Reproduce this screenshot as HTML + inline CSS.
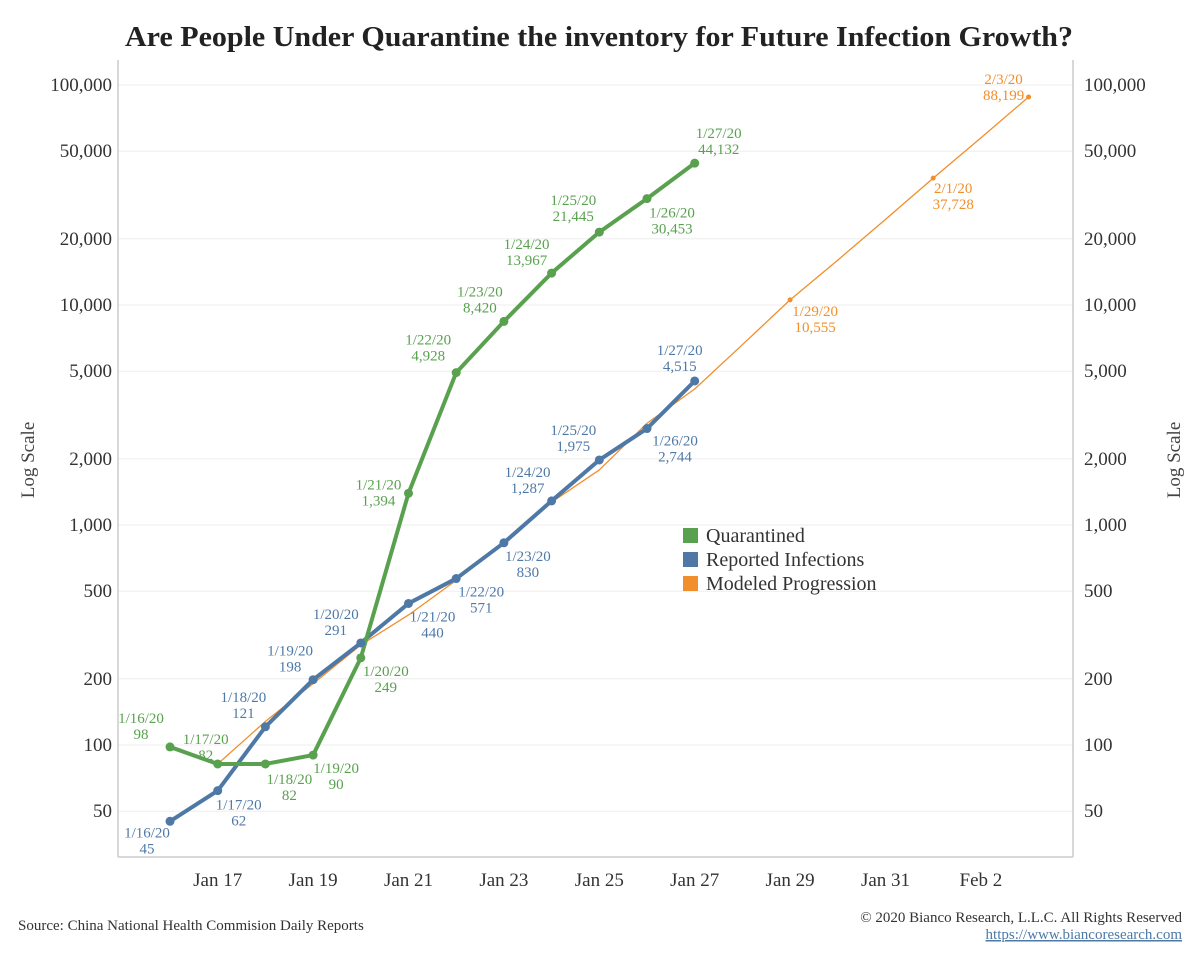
<!DOCTYPE html>
<html><head><meta charset="utf-8"><style>
body{margin:0;background:#fff;}
svg{display:block;font-family:"Liberation Serif",serif;}
</style></head><body>
<svg id="c" width="1200" height="960">
<text x="125" y="46" textLength="948" lengthAdjust="spacingAndGlyphs" font-size="28" font-weight="bold" fill="#222">Are People Under Quarantine the inventory for Future Infection Growth?</text>
<g id="grid"></g>
<line x1="118" y1="60" x2="118" y2="857" stroke="#ccc" stroke-width="1.5"/>
<line x1="1073" y1="60" x2="1073" y2="857" stroke="#ccc" stroke-width="1.5"/>
<line x1="118" y1="857" x2="1073" y2="857" stroke="#ccc" stroke-width="1.5"/>
<text transform="translate(34,460) rotate(-90)" text-anchor="middle" font-size="19" fill="#444">Log Scale</text>
<text transform="translate(1180,460) rotate(-90)" text-anchor="middle" font-size="19" fill="#444">Log Scale</text>
<g id="marks"></g>
<g>
<rect x="683" y="528" width="15" height="15" fill="#59a14f"/>
<text x="706" y="542" font-size="20" fill="#333">Quarantined</text>
<rect x="683" y="552" width="15" height="15" fill="#4e79a7"/>
<text x="706" y="566" font-size="20" fill="#333">Reported Infections</text>
<rect x="683" y="576" width="15" height="15" fill="#f28e2b"/>
<text x="706" y="590" font-size="20" fill="#333">Modeled Progression</text>
</g>
<text x="18" y="930" font-size="15" fill="#333">Source: China National Health Commision Daily Reports</text>
<text x="1182" y="922" text-anchor="end" font-size="15" fill="#333">© 2020 Bianco Research, L.L.C. All Rights Reserved</text>
<text x="1182" y="939" text-anchor="end" font-size="15" fill="#4e79a7" text-decoration="underline">https://www.biancoresearch.com</text>
</svg>
<script>
const yTicks=[50,100,200,500,1000,2000,5000,10000,20000,50000,100000];
const xTickDays=[1,3,5,7,9,11,13,15,17];
const xTickLabels=["Jan 17","Jan 19","Jan 21","Jan 23","Jan 25","Jan 27","Jan 29","Jan 31","Feb 2"];
const qDays=[0,1,2,3,4,5,6,7,8,9,10,11];
const qLabels=["1/16/20","1/17/20","1/18/20","1/19/20","1/20/20","1/21/20","1/22/20","1/23/20","1/24/20","1/25/20","1/26/20","1/27/20"];
const quarantined=[98,82,82,90,249,1394,4928,8420,13967,21445,30453,44132];
const rDays=[0,1,2,3,4,5,6,7,8,9,10,11];
const reported=[45,62,121,198,291,440,571,830,1287,1975,2744,4515];
const mDays=[1,2,3,4,5,6,7,8,9,10,11,12,13,14,15,16,17,18];
const modeled=[82,128,190,285,390,560,830,1270,1780,2900,4150,6600,10555,16000,24500,37728,57500,88199];
const mLabeled={13:"1/29/20",16:"2/1/20",18:"2/3/20"};

const X=d=>170+d*47.7;
const Y=v=>745-(Math.log10(v)-2)*220;
const NS="http://www.w3.org/2000/svg";
function mk(t,a,p){const e=document.createElementNS(NS,t);for(const k in a)e.setAttribute(k,a[k]);p.appendChild(e);return e;}
const grid=document.getElementById('grid'),marks=document.getElementById('marks');
const fmt=v=>v.toLocaleString('en-US');
yTicks.forEach(v=>{
 const g=mk('line',{x1:118,x2:1073,y1:Y(v),y2:Y(v),stroke:'#eee','stroke-width':1},grid);
 
 
 const l=mk('text',{x:112,y:Y(v)+6,'text-anchor':'end','font-size':19,fill:'#333'},grid);l.textContent=fmt(v);
 
 
 const r=mk('text',{x:1084,y:Y(v)+6,'font-size':19,fill:'#333'},grid);r.textContent=fmt(v);
 
 
});
xTickDays.forEach((d,i)=>{
 const t=mk('text',{x:X(d),y:886,'text-anchor':'middle','font-size':19,fill:'#333'},grid);t.textContent=xTickLabels[i];
 
 
});
function series(days,vals,color,w,name){
 const p=mk('polyline',{points:days.map((d,i)=>X(d)+','+Y(vals[i])).join(' '),fill:'none',stroke:color,'stroke-width':w,'stroke-linejoin':'round'},marks);
 
 
}
function label(x,y,l1,l2,color){
 const t=mk('text',{x:x,y:y,'text-anchor':'middle','font-size':15,fill:color},marks);
 
 
 mk('tspan',{x:x,dy:0},t).textContent=l1;
 mk('tspan',{x:x,dy:16},t).textContent=l2;
}
series(mDays,modeled,'#f28e2b',1.3,'modeled');
mDays.forEach((d,i)=>{if(mLabeled[d]){const c=mk('circle',{cx:X(d),cy:Y(modeled[i]),r:2.5,fill:'#f28e2b'},marks);}});
series(rDays,reported,'#4e79a7',4,'reported');
series(qDays,quarantined,'#59a14f',4,'quarantined');
rDays.forEach((d,i)=>{const c=mk('circle',{cx:X(d),cy:Y(reported[i]),r:4.5,fill:'#4e79a7'},marks);});
qDays.forEach((d,i)=>{const c=mk('circle',{cx:X(d),cy:Y(quarantined[i]),r:4.5,fill:'#59a14f'},marks);});
const qOff=[[-29,-24],[-12,-20],[24,20],[23,18],[25,18],[-30,-4],[-28,-28],[-24,-25],[-25,-24],[-26,-27],[25,19],[24,-25]];
const rOff=[[-23,16],[21,19],[-22,-25],[-23,-24],[-25,-24],[24,18],[25,18],[24,18],[-24,-24],[-26,-25],[28,17],[-15,-26]];
qDays.forEach((d,i)=>label(X(d)+qOff[i][0],Y(quarantined[i])+qOff[i][1],qLabels[i],fmt(quarantined[i]),'#59a14f'));
rDays.forEach((d,i)=>label(X(d)+rOff[i][0],Y(reported[i])+rOff[i][1],qLabels[i],fmt(reported[i]),'#4e79a7'));
const mOff={13:[25,16],16:[20,15],18:[-25,-13]};
mDays.forEach((d,i)=>{if(mLabeled[d])label(X(d)+mOff[d][0],Y(modeled[i])+mOff[d][1],mLabeled[d],fmt(modeled[i]),'#f28e2b');});
</script>
</body></html>
